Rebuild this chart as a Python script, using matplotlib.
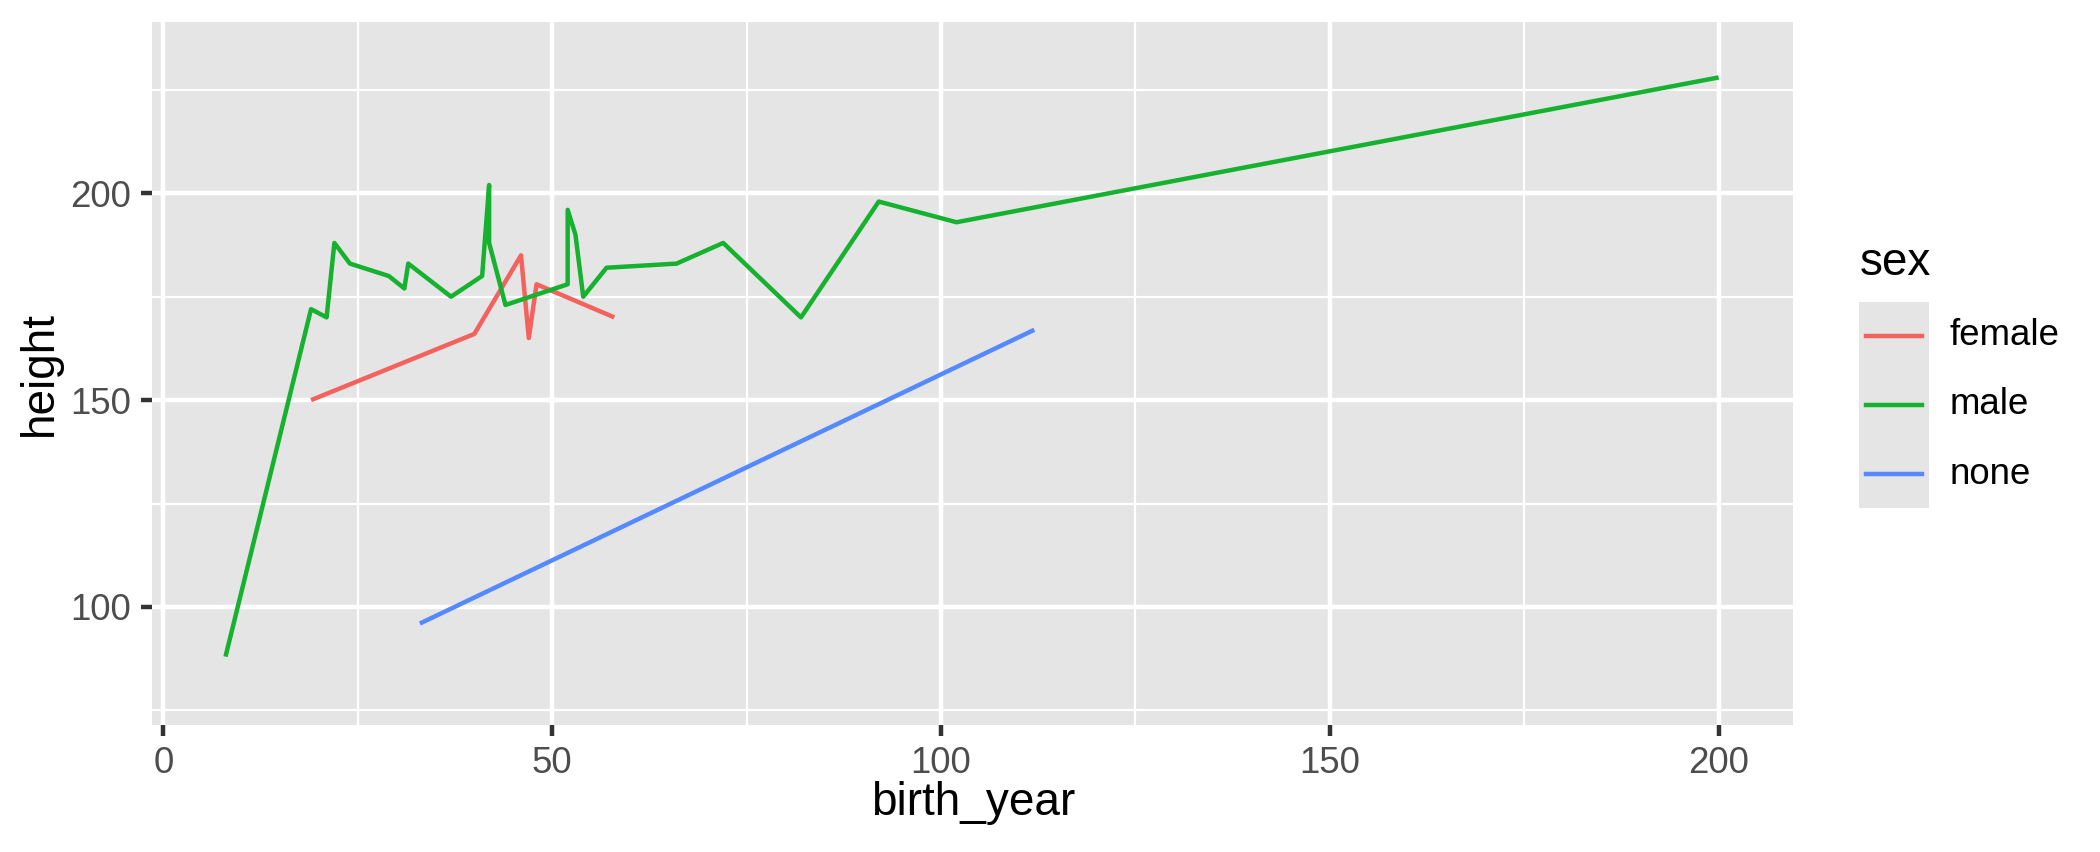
import matplotlib
matplotlib.use("Agg")
from matplotlib import pyplot as plt
from matplotlib.lines import Line2D
from matplotlib.patches import Rectangle

# Values (birth_year vs height, by sex)
female_x = [19, 40, 46, 47, 48, 58]
female_y = [150, 166, 185, 165, 178, 170]
male_x = [8, 19, 21, 22, 24, 29, 31, 31.5, 37, 41, 41.9, 41.9, 44,
          52, 52, 53, 54, 57, 66, 72, 82, 92, 102, 200]
male_y = [88, 172, 170, 188, 183, 180, 177, 183, 175, 180, 202, 188, 173,
          178, 196, 190, 175, 182, 183, 188, 170, 198, 193, 228]
none_x = [33, 112]
none_y = [96, 167]

sexes = ["female", "male", "none"]
colors = ["#F4625E", "#16B22F", "#5589FF"]
series = [(female_x, female_y), (male_x, male_y), (none_x, none_y)]

x_ticks = [0, 50, 100, 150, 200]
x_minor = [25, 75, 125, 175]
y_ticks = [100, 150, 200]
y_minor = [75, 125, 175, 225]

W, H = 2100, 852
plt.rcParams['font.family'] = ['Liberation Sans', 'DejaVu Sans']

fig = plt.figure(figsize=(W / 300, H / 300), dpi=300)
ax = fig.add_axes([152 / W, 1 - 725.3 / H, (1793.3 - 152) / W, (725.3 - 22) / H])
ax.patch.set_facecolor("#E5E5E5")

for (xs, ys), col in zip(series, colors):
    ax.plot(xs, ys, color=col, lw=1.07, solid_capstyle='butt', zorder=3)

ax.set_xlim(-1.45, 209.6)
ax.set_ylim(71.4, 241.4)
ax.set_xticks(x_ticks)
ax.set_xticks(x_minor, minor=True)
ax.set_yticks(y_ticks)
ax.set_yticks(y_minor, minor=True)
ax.grid(which='major', color='white', lw=1.07)
ax.grid(which='minor', color='white', lw=0.53)
ax.set_axisbelow(True)
for s in ax.spines.values():
    s.set_visible(False)
ax.tick_params(which='major', length=2.75, width=1.07, color='#333333',
               labelsize=8.8, labelcolor='#4D4D4D', pad=2.2)
ax.tick_params(which='minor', length=0)

fig.text((152 + 1793.3) / 2 / W, 1 - 803 / H, "birth_year", fontsize=11,
         ha='center', va='center')
fig.text(40 / W, 1 - (22 + 725.3) / 2 / H, "height", fontsize=11,
         ha='center', va='center', rotation=90)

# legend
fig.text(1860 / W, 1 - 275 / H, "sex", fontsize=11, ha='left', va='baseline')
fig.add_artist(Rectangle((1859 / W, 1 - 508 / H), 70 / W, (508 - 301.7) / H,
                         transform=fig.transFigure, facecolor="#E5E5E5",
                         edgecolor='none'))
key_y = [336, 405, 474.3]
for name, col, ky in zip(sexes, colors, key_y):
    fig.add_artist(Line2D([1866 / W, 1921.7 / W], [1 - ky / H, 1 - ky / H],
                          transform=fig.transFigure, color=col, lw=1.07))
    fig.text(1950 / W, 1 - ky / H, name, fontsize=8.8, ha='left', va='center')

fig.savefig("out.png", dpi=300, facecolor='white')
